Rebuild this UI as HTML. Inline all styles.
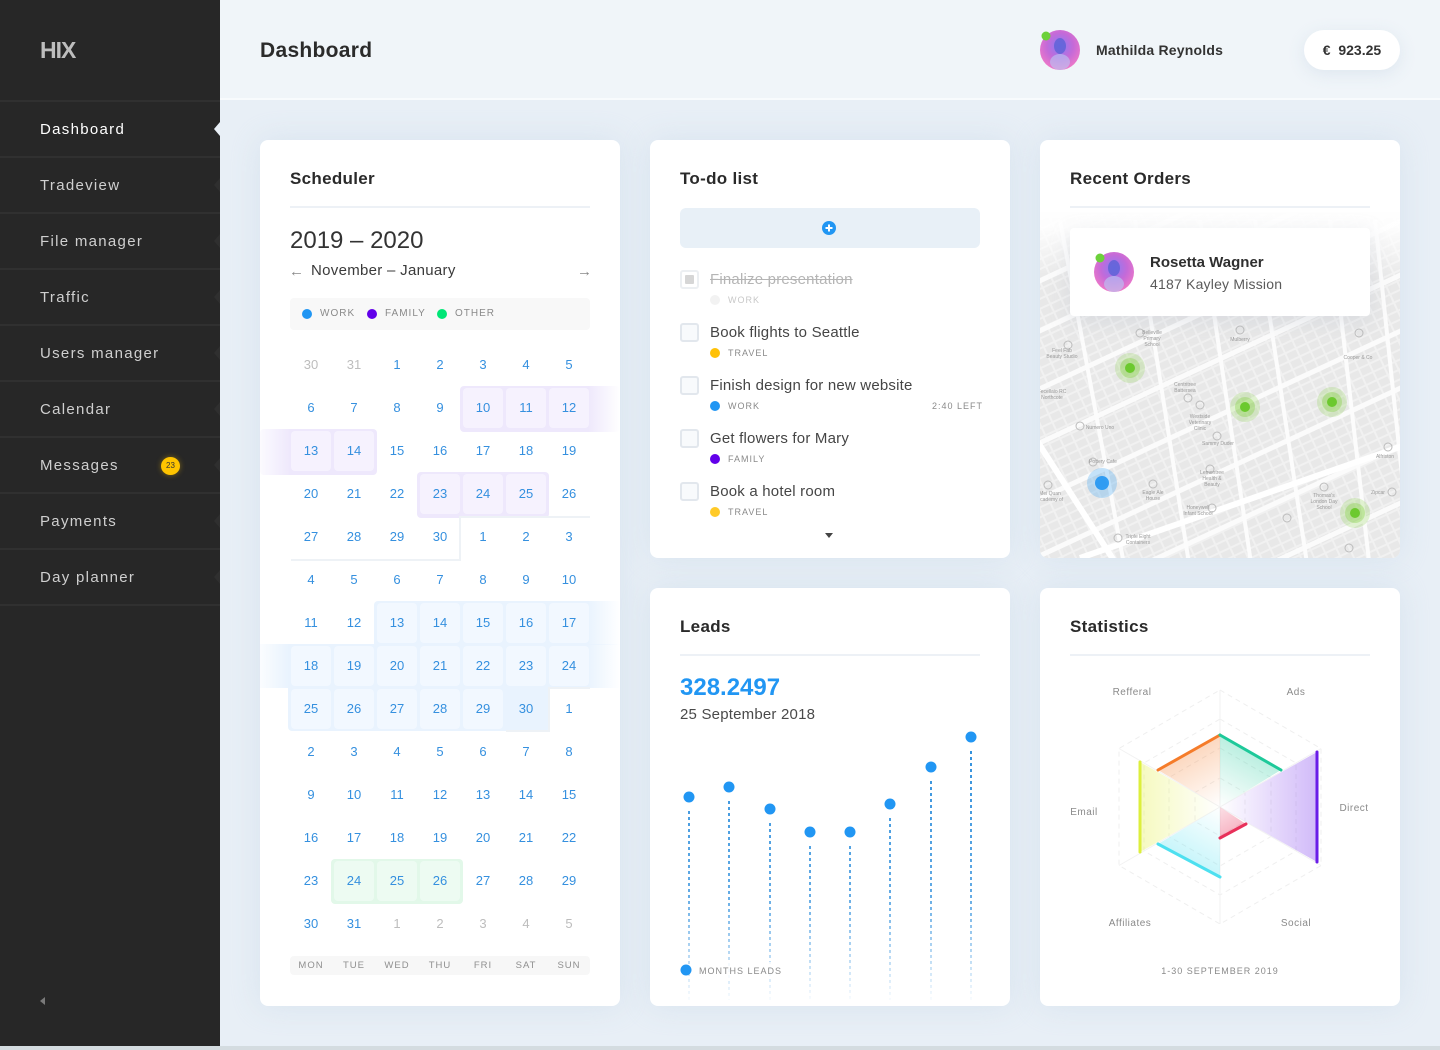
<!DOCTYPE html>
<html><head><meta charset="utf-8"><title>Dashboard</title>
<style>
*{box-sizing:border-box;margin:0;padding:0}
body{width:1440px;height:1050px;overflow:hidden;background:#e8eff6;font-family:"Liberation Sans",Arial,sans-serif;position:relative}
.a{position:absolute}
#side{left:0;top:0;width:220px;height:1046px;background:#272727}
.logo{left:40px;top:37px;font-size:23px;font-weight:bold;color:#bdbdbd;letter-spacing:-1px}
.sl{left:0;width:220px;height:2px;background:#303030}
.si{left:40px;font-size:15px;letter-spacing:1.3px;color:#cfcfcf;line-height:20px}
.nt{left:214px;width:0;height:0;border-top:7px solid transparent;border-bottom:7px solid transparent;border-right:6px solid #2f2f2f}
#hdr{left:220px;top:0;width:1220px;height:100px;background:#f0f5f9;border-bottom:2px solid #f8fbfd}
.card{position:absolute;background:#fff;border-radius:8px;box-shadow:0 0 30px rgba(196,212,230,.45);overflow:hidden}
.ttl{position:absolute;left:30px;top:29px;font-size:17px;font-weight:bold;color:#2a2a2a;letter-spacing:.3px;line-height:20px}
.dv{position:absolute;left:30px;top:66px;width:300px;height:2px;background:#edf1f6}
.grid{position:absolute;left:31px;top:205px;display:grid;grid-template-columns:repeat(7,40px);grid-auto-rows:40px;gap:3px}
.grid div{text-align:center;line-height:40px;font-size:13px;color:#3590df;border-radius:4px}
.grid .m{color:#bdbdbd}
.grid .p{background:#f6f2fe}
.grid .b{background:#f2f8ff}
.grid .g{background:#edfbf2}
.band{position:absolute;border-radius:4px}
.ln{position:absolute;background:#eef2f6}
.lg{position:absolute;font-size:10px;letter-spacing:1px;color:#8a8a8a;line-height:12px}
.dot{position:absolute;width:10px;height:10px;border-radius:50%}
.dh{position:absolute;left:30px;top:816px;width:300px;height:19px;background:#f7f7f7;border-radius:4px}
.dh span{position:absolute;top:0;width:40px;text-align:center;font-size:9.5px;letter-spacing:1px;color:#8f8f8f;line-height:19px}
.cb{position:absolute;left:30px;width:19px;height:19px;border:2px solid #e2e7ed;border-radius:3px;background:#f8fafc}
.tt{position:absolute;left:60px;font-size:15px;color:#454545;letter-spacing:.2px;line-height:18px}
.tg{position:absolute;left:78px;font-size:9px;letter-spacing:1px;color:#8a8a8a;line-height:10px}
.td{position:absolute;left:60px;width:10px;height:10px;border-radius:50%}
</style></head><body>

<!-- SIDEBAR -->
<div id="side" class="a">
  <div class="a logo">HIX</div>
  <div class="a sl" style="top:100px"></div>
  <div class="a sl" style="top:156px"></div>
  <div class="a sl" style="top:212px"></div>
  <div class="a sl" style="top:268px"></div>
  <div class="a sl" style="top:324px"></div>
  <div class="a sl" style="top:380px"></div>
  <div class="a sl" style="top:436px"></div>
  <div class="a sl" style="top:492px"></div>
  <div class="a sl" style="top:548px"></div>
  <div class="a sl" style="top:604px"></div>
  <div class="a si" style="top:120px;color:#fff">Dashboard</div>
  <div class="a si" style="top:176px">Tradeview</div>
  <div class="a si" style="top:232px">File manager</div>
  <div class="a si" style="top:288px">Traffic</div>
  <div class="a si" style="top:344px">Users manager</div>
  <div class="a si" style="top:400px">Calendar</div>
  <div class="a si" style="top:456px">Messages</div>
  <div class="a si" style="top:512px">Payments</div>
  <div class="a si" style="top:568px">Day planner</div>
  <div class="a" style="left:161px;top:457px;width:19px;height:18px;border-radius:50%;background:#ffc400;box-shadow:0 0 6px rgba(255,196,0,.4);font-size:8px;color:#333;text-align:center;line-height:18px">23</div>
  <div class="a nt" style="top:122px;border-right-color:#e8eff6"></div>
  <div class="a nt" style="top:178px"></div>
  <div class="a nt" style="top:234px"></div>
  <div class="a nt" style="top:290px"></div>
  <div class="a nt" style="top:346px"></div>
  <div class="a nt" style="top:402px"></div>
  <div class="a nt" style="top:458px"></div>
  <div class="a nt" style="top:514px"></div>
  <div class="a nt" style="top:570px"></div>
  <div class="a" style="left:40px;top:997px;width:0;height:0;border-top:4px solid transparent;border-bottom:4px solid transparent;border-right:5px solid #7a7a7a"></div>
</div>

<!-- HEADER -->
<div id="hdr" class="a"></div>
<div class="a" style="left:260px;top:39px;font-size:21px;font-weight:bold;color:#2b2b2b;letter-spacing:.3px;line-height:24px">Dashboard</div>
<svg class="a" style="left:1038px;top:28px" width="46" height="46">
  <defs><radialGradient id="av1" cx="50%" cy="40%" r="60%"><stop offset="0" stop-color="#8a7cf5"/><stop offset=".55" stop-color="#c46ad8"/><stop offset="1" stop-color="#ef78c8"/></radialGradient></defs>
  <circle cx="22" cy="22" r="20" fill="url(#av1)"/>
  <ellipse cx="22" cy="18" rx="6" ry="8" fill="#5b62d6" opacity=".8"/>
  <ellipse cx="22" cy="34" rx="10" ry="8" fill="#b9c9f5" opacity=".6"/>
  <circle cx="8" cy="8" r="4.5" fill="#6cd13a"/>
</svg>
<div class="a" style="left:1096px;top:41px;font-size:14px;font-weight:bold;color:#333;letter-spacing:.2px;line-height:18px">Mathilda Reynolds</div>
<div class="a" style="left:1304px;top:30px;width:96px;height:40px;border-radius:20px;background:#fff;box-shadow:0 4px 16px rgba(200,212,228,.45);text-align:center;line-height:40px;font-size:14px;font-weight:bold;color:#333">€&nbsp; 923.25</div>

<!-- SCHEDULER -->
<div class="card" style="left:260px;top:140px;width:360px;height:866px">
  <div class="ttl">Scheduler</div>
  <div class="dv"></div>
  <div class="a" style="left:30px;top:88px;font-size:24px;color:#333;line-height:26px">2019 – 2020</div>
  <div class="a" style="left:29px;top:123px;font-size:15px;color:#888;line-height:18px">←</div>
  <div class="a" style="left:51px;top:122px;font-size:15px;color:#3a3a3a;letter-spacing:.3px;line-height:18px">November – January</div>
  <div class="a" style="left:317px;top:123px;font-size:15px;color:#888;line-height:18px">→</div>
  <div class="a" style="left:30px;top:158px;width:300px;height:32px;background:#f8f8f8;border-radius:4px"></div>
  <div class="dot" style="left:42px;top:169px;background:#2196f3"></div>
  <div class="lg" style="left:60px;top:168px">WORK</div>
  <div class="dot" style="left:107px;top:169px;background:#6200ea"></div>
  <div class="lg" style="left:125px;top:168px">FAMILY</div>
  <div class="dot" style="left:177px;top:169px;background:#00e676"></div>
  <div class="lg" style="left:195px;top:168px">OTHER</div>

  <!-- bands -->
  <div class="band" style="left:200px;top:246px;width:160px;height:46px;background:linear-gradient(to right,#eee8fc 80%,rgba(238,232,252,0) 100%)"></div>
  <div class="band" style="left:0;top:289px;width:117px;height:46px;background:linear-gradient(to right,rgba(238,232,252,.2) 0,#eee8fc 26%)"></div>
  <div class="band" style="left:157px;top:332px;width:132px;height:46px;background:#eee8fc"></div>
  <div class="band" style="left:114px;top:461px;width:246px;height:44px;border-radius:4px 0 0 0;background:linear-gradient(to right,#e9f3fe 87%,rgba(233,243,254,0) 100%)"></div>
  <div class="band" style="left:0;top:504px;width:360px;height:44px;border-radius:0;background:linear-gradient(to right,rgba(233,243,254,.2) 0,#e9f3fe 8%,#e9f3fe 91%,rgba(233,243,254,0) 100%)"></div>
  <div class="band" style="left:28px;top:547px;width:261px;height:44px;border-radius:0 0 4px 4px;background:#e9f3fe"></div>
  <div class="band" style="left:71px;top:719px;width:132px;height:45px;background:#e2f8e9"></div>
  <!-- month separators -->
  <div class="ln" style="left:200px;top:376px;width:130px;height:2px"></div>
  <div class="ln" style="left:199px;top:376px;width:2px;height:45px"></div>
  <div class="ln" style="left:31px;top:419px;width:170px;height:2px"></div>
  <div class="ln" style="left:288px;top:547px;width:2px;height:45px"></div>
  <div class="ln" style="left:289px;top:547px;width:41px;height:2px"></div>
  <div class="ln" style="left:246px;top:590px;width:44px;height:2px"></div>

  <div class="grid">
    <div class="m">30</div><div class="m">31</div><div>1</div><div>2</div><div>3</div><div>4</div><div>5</div>
    <div>6</div><div>7</div><div>8</div><div>9</div><div class="p">10</div><div class="p">11</div><div class="p">12</div>
    <div class="p">13</div><div class="p">14</div><div>15</div><div>16</div><div>17</div><div>18</div><div>19</div>
    <div>20</div><div>21</div><div>22</div><div class="p">23</div><div class="p">24</div><div class="p">25</div><div>26</div>
    <div>27</div><div>28</div><div>29</div><div>30</div><div>1</div><div>2</div><div>3</div>
    <div>4</div><div>5</div><div>6</div><div>7</div><div>8</div><div>9</div><div>10</div>
    <div>11</div><div>12</div><div class="b">13</div><div class="b">14</div><div class="b">15</div><div class="b">16</div><div class="b">17</div>
    <div class="b">18</div><div class="b">19</div><div class="b">20</div><div class="b">21</div><div class="b">22</div><div class="b">23</div><div class="b">24</div>
    <div class="b">25</div><div class="b">26</div><div class="b">27</div><div class="b">28</div><div class="b">29</div><div>30</div><div>1</div>
    <div>2</div><div>3</div><div>4</div><div>5</div><div>6</div><div>7</div><div>8</div>
    <div>9</div><div>10</div><div>11</div><div>12</div><div>13</div><div>14</div><div>15</div>
    <div>16</div><div>17</div><div>18</div><div>19</div><div>20</div><div>21</div><div>22</div>
    <div>23</div><div class="g">24</div><div class="g">25</div><div class="g">26</div><div>27</div><div>28</div><div>29</div>
    <div>30</div><div>31</div><div class="m">1</div><div class="m">2</div><div class="m">3</div><div class="m">4</div><div class="m">5</div>
  </div>
  <div class="dh">
    <span style="left:1px">MON</span><span style="left:44px">TUE</span><span style="left:87px">WED</span><span style="left:130px">THU</span><span style="left:173px">FRI</span><span style="left:216px">SAT</span><span style="left:259px">SUN</span>
  </div>
</div>

<!-- TODO -->
<div class="card" style="left:650px;top:140px;width:360px;height:418px">
  <div class="ttl">To-do list</div>
  <div class="a" style="left:30px;top:68px;width:300px;height:40px;background:#e8f0f7;border-radius:6px"></div>
  <svg class="a" style="left:172px;top:81px" width="14" height="14"><circle cx="7" cy="7" r="7" fill="#2196f3"/><path d="M7 3.5v7M3.5 7h7" stroke="#fff" stroke-width="2"/></svg>

  <div class="cb" style="top:130px;border-color:#eceff2;background:#fff"></div>
  <div class="a" style="left:35px;top:135px;width:9px;height:9px;background:#d6d6d6;border-radius:1px"></div>
  <div class="tt" style="top:131px;color:#b5b5b5;text-decoration:line-through">Finalize presentation</div>
  <div class="td" style="top:155px;background:#f2f2f2"></div>
  <div class="tg" style="top:155px;color:#c8c8c8">WORK</div>

  <div class="cb" style="top:183px"></div>
  <div class="tt" style="top:184px">Book flights to Seattle</div>
  <div class="td" style="top:208px;background:#ffc107"></div>
  <div class="tg" style="top:208px">TRAVEL</div>

  <div class="cb" style="top:236px"></div>
  <div class="tt" style="top:237px">Finish design for new website</div>
  <div class="td" style="top:261px;background:#2196f3"></div>
  <div class="tg" style="top:261px">WORK</div>
  <div class="tg" style="left:282px;top:261px">2:40 LEFT</div>

  <div class="cb" style="top:289px"></div>
  <div class="tt" style="top:290px">Get flowers for Mary</div>
  <div class="td" style="top:314px;background:#6200ea"></div>
  <div class="tg" style="top:314px">FAMILY</div>

  <div class="cb" style="top:342px"></div>
  <div class="tt" style="top:343px">Book a hotel room</div>
  <div class="td" style="top:367px;background:#ffca28"></div>
  <div class="tg" style="top:367px">TRAVEL</div>

  <div class="a" style="left:175px;top:393px;width:0;height:0;border-left:4.5px solid transparent;border-right:4.5px solid transparent;border-top:5px solid #444"></div>
</div>

<!-- RECENT ORDERS -->
<div class="card" style="left:1040px;top:140px;width:360px;height:418px">
  <svg class="a" style="left:0;top:0" width="360" height="418">
    <defs>
      <pattern id="hs" width="12" height="9" patternUnits="userSpaceOnUse" patternTransform="rotate(-25)">
        <rect width="12" height="9" fill="#f1f1f1"/><rect x="1" y="1" width="10" height="7" fill="#e6e6e6"/>
      </pattern>
      <linearGradient id="fade" x1="0" y1="0" x2="0" y2="1">
        <stop offset="0" stop-color="#fff" stop-opacity="1"/><stop offset=".35" stop-color="#fff" stop-opacity=".9"/><stop offset="1" stop-color="#fff" stop-opacity="0"/>
      </linearGradient>
      <clipPath id="mc"><rect x="0" y="72" width="360" height="346"/></clipPath>
    </defs>
    <g clip-path="url(#mc)">
    <rect x="0" y="70" width="360" height="348" fill="#efefef"/>
    <rect x="0" y="70" width="360" height="348" fill="url(#hs)" opacity=".75"/>
    <g stroke="#fbfbfb" stroke-width="5" stroke-linecap="butt">
      <line x1="-20" y1="150" x2="380" y2="-36"/>
      <line x1="-20" y1="200" x2="380" y2="14"/>
      <line x1="-20" y1="258" x2="380" y2="72"/>
      <line x1="-20" y1="312" x2="380" y2="126"/>
      <line x1="-20" y1="368" x2="380" y2="182"/>
      <line x1="-20" y1="425" x2="380" y2="239"/>
      <line x1="-20" y1="482" x2="380" y2="296"/>
      <line x1="-20" y1="540" x2="380" y2="354"/>
    </g>
    <g stroke="#fcfcfc" stroke-width="4">
      <line x1="20" y1="80" x2="85" y2="430"/>
      <line x1="95" y1="80" x2="150" y2="430"/>
      <line x1="160" y1="80" x2="212" y2="430"/>
      <line x1="215" y1="80" x2="268" y2="430"/>
      <line x1="290" y1="80" x2="330" y2="430"/>
      <line x1="335" y1="80" x2="372" y2="430"/>
    </g>
    <g stroke="#ffffff" stroke-width="6">
      <line x1="-10" y1="290" x2="80" y2="430"/>
      <line x1="40" y1="418" x2="380" y2="300"/>
    </g>
    <g fill="none" stroke="#bcbcbc" stroke-width="1">
      <circle cx="100" cy="193" r="4"/><circle cx="28" cy="205" r="4"/><circle cx="148" cy="258" r="4"/><circle cx="200" cy="190" r="4"/>
      <circle cx="160" cy="265" r="4"/><circle cx="40" cy="286" r="4"/><circle cx="177" cy="296" r="4"/><circle cx="53" cy="322" r="4"/>
      <circle cx="170" cy="329" r="4"/><circle cx="113" cy="344" r="4"/><circle cx="172" cy="368" r="4"/><circle cx="284" cy="347" r="4"/>
      <circle cx="319" cy="193" r="4"/><circle cx="348" cy="307" r="4"/><circle cx="352" cy="352" r="4"/><circle cx="247" cy="378" r="4"/>
      <circle cx="8" cy="345" r="4"/><circle cx="78" cy="398" r="4"/><circle cx="309" cy="408" r="4"/>
    </g>
    <g font-family="Liberation Sans" font-size="5" fill="#9a9a9a" text-anchor="middle">
      <text x="112" y="194">Belleville</text><text x="112" y="200">Primary</text><text x="112" y="206">School</text>
      <text x="22" y="212">Feel Fab</text><text x="22" y="218">Beauty Studio</text>
      <text x="200" y="201">Mulberry</text>
      <text x="145" y="246">Centritree</text><text x="145" y="252">Battersea</text>
      <text x="160" y="278">Westside</text><text x="160" y="284">Veterinary</text><text x="160" y="290">Clinic</text>
      <text x="60" y="289">Numero Uno</text><text x="178" y="305">Sammy Duder</text>
      <text x="63" y="323">Pottery Cafe</text>
      <text x="172" y="334">Lemontree</text><text x="172" y="340">Health &amp;</text><text x="172" y="346">Beauty</text>
      <text x="113" y="354">Eagle Ale</text><text x="113" y="360">House</text>
      <text x="158" y="369">Honeywell</text><text x="158" y="375">Infant School</text>
      <text x="284" y="357">Thomas's</text><text x="284" y="363">London Day</text><text x="284" y="369">School</text>
      <text x="98" y="398">Triple Eight</text><text x="98" y="404">Containers</text>
      <text x="318" y="219">Cooper &amp; Co</text><text x="345" y="318">Alfriston</text><text x="338" y="354">Zipcar</text>
      <text x="10" y="355">Mei Quan</text><text x="10" y="361">Academy of</text>
      <text x="12" y="253">Fecellaio RC</text><text x="12" y="259">Northcote</text>
    </g>
    </g>
    <rect x="0" y="60" width="360" height="80" fill="url(#fade)"/>
    <g>
      <circle cx="90" cy="228" r="15" fill="#7fcf3a" opacity=".22"/><circle cx="90" cy="228" r="10" fill="#7fcf3a" opacity=".35"/><circle cx="90" cy="228" r="5" fill="#6cc92e"/>
      <circle cx="205" cy="267" r="15" fill="#7fcf3a" opacity=".22"/><circle cx="205" cy="267" r="10" fill="#7fcf3a" opacity=".35"/><circle cx="205" cy="267" r="5" fill="#6cc92e"/>
      <circle cx="292" cy="262" r="15" fill="#7fcf3a" opacity=".22"/><circle cx="292" cy="262" r="10" fill="#7fcf3a" opacity=".35"/><circle cx="292" cy="262" r="5" fill="#6cc92e"/>
      <circle cx="315" cy="373" r="15" fill="#7fcf3a" opacity=".22"/><circle cx="315" cy="373" r="10" fill="#7fcf3a" opacity=".35"/><circle cx="315" cy="373" r="5" fill="#6cc92e"/>
      <circle cx="62" cy="343" r="15" fill="#2196f3" opacity=".25"/><circle cx="62" cy="343" r="7" fill="#2196f3" opacity=".9"/>
    </g>
  </svg>
  <div class="ttl">Recent Orders</div>
  <div class="dv"></div>
  <div class="a" style="left:30px;top:88px;width:300px;height:88px;background:#fff;border-radius:4px;box-shadow:0 6px 20px rgba(170,180,195,.25)"></div>
  <svg class="a" style="left:52px;top:110px" width="46" height="46">
    <defs><radialGradient id="av2" cx="50%" cy="40%" r="60%"><stop offset="0" stop-color="#8a7cf5"/><stop offset=".55" stop-color="#c46ad8"/><stop offset="1" stop-color="#ef78c8"/></radialGradient></defs>
    <circle cx="22" cy="22" r="20" fill="url(#av2)"/>
    <ellipse cx="22" cy="18" rx="6" ry="8" fill="#5b62d6" opacity=".8"/>
    <ellipse cx="22" cy="34" rx="10" ry="8" fill="#b9c9f5" opacity=".6"/>
    <circle cx="8" cy="8" r="4.5" fill="#6cd13a"/>
  </svg>
  <div class="a" style="left:110px;top:114px;font-size:15px;font-weight:bold;color:#2f2f2f;line-height:18px">Rosetta Wagner</div>
  <div class="a" style="left:110px;top:135px;font-size:14px;color:#5a5a5a;letter-spacing:.2px;line-height:18px">4187 Kayley Mission</div>
</div>

<!-- LEADS -->
<div class="card" style="left:650px;top:588px;width:360px;height:418px">
  <div class="ttl">Leads</div>
  <div class="dv"></div>
  <div class="a" style="left:30px;top:86px;font-size:24px;font-weight:bold;color:#2196f3;line-height:28px">328.2497</div>
  <div class="a" style="left:30px;top:118px;font-size:15px;color:#4a4a4a;letter-spacing:.2px;line-height:18px">25 September 2018</div>
  <svg class="a" style="left:0;top:0" width="360" height="418">
    <defs>
      <linearGradient id="lf" gradientUnits="userSpaceOnUse" x1="0" y1="150" x2="0" y2="412">
        <stop offset="0" stop-color="#2f8fdc" stop-opacity="1"/><stop offset=".6" stop-color="#2f8fdc" stop-opacity=".75"/><stop offset="1" stop-color="#2f8fdc" stop-opacity=".03"/>
      </linearGradient>
    </defs>
    <g stroke="url(#lf)" stroke-width="2" stroke-dasharray="3 3">
      <line x1="39" y1="223" x2="39" y2="412"/>
      <line x1="79" y1="213" x2="79" y2="412"/>
      <line x1="120" y1="235" x2="120" y2="412"/>
      <line x1="160" y1="258" x2="160" y2="412"/>
      <line x1="200" y1="258" x2="200" y2="412"/>
      <line x1="240" y1="230" x2="240" y2="412"/>
      <line x1="281" y1="193" x2="281" y2="412"/>
      <line x1="321" y1="163" x2="321" y2="412"/>
    </g>
    <g fill="#2196f3">
      <circle cx="39" cy="209" r="5.5"/><circle cx="79" cy="199" r="5.5"/><circle cx="120" cy="221" r="5.5"/><circle cx="160" cy="244" r="5.5"/>
      <circle cx="200" cy="244" r="5.5"/><circle cx="240" cy="216" r="5.5"/><circle cx="281" cy="179" r="5.5"/><circle cx="321" cy="149" r="5.5"/>
    </g>
    <rect x="44" y="374" width="90" height="16" fill="#fff" opacity=".8"/>
    <circle cx="36" cy="382" r="5.5" fill="#2196f3"/>
    <text x="49" y="386" font-family="Liberation Sans" font-size="9" letter-spacing="1" fill="#8a8a8a">MONTHS LEADS</text>
  </svg>
</div>

<!-- STATISTICS -->
<div class="card" style="left:1040px;top:588px;width:360px;height:418px">
  <div class="ttl">Statistics</div>
  <div class="dv"></div>
  <svg class="a" style="left:0;top:0" width="360" height="418">
    <defs>
      <linearGradient id="go" gradientUnits="userSpaceOnUse" x1="180" y1="219" x2="149" y2="164"><stop offset="0" stop-color="#f57c2a" stop-opacity="0"/><stop offset="1" stop-color="#f57c2a" stop-opacity=".3"/></linearGradient>
      <linearGradient id="gg" gradientUnits="userSpaceOnUse" x1="180" y1="219" x2="210" y2="164"><stop offset="0" stop-color="#1ec99a" stop-opacity="0"/><stop offset="1" stop-color="#1ec99a" stop-opacity=".3"/></linearGradient>
      <linearGradient id="gp" gradientUnits="userSpaceOnUse" x1="180" y1="219" x2="277" y2="219"><stop offset="0" stop-color="#7c3aed" stop-opacity="0"/><stop offset="1" stop-color="#7c3aed" stop-opacity=".35"/></linearGradient>
      <linearGradient id="gr" gradientUnits="userSpaceOnUse" x1="180" y1="219" x2="193" y2="243"><stop offset="0" stop-color="#e8305a" stop-opacity=".15"/><stop offset="1" stop-color="#e8305a" stop-opacity=".35"/></linearGradient>
      <linearGradient id="gc" gradientUnits="userSpaceOnUse" x1="180" y1="219" x2="149" y2="272"><stop offset="0" stop-color="#4de0f0" stop-opacity="0"/><stop offset="1" stop-color="#4de0f0" stop-opacity=".3"/></linearGradient>
      <linearGradient id="gy" gradientUnits="userSpaceOnUse" x1="180" y1="219" x2="100" y2="219"><stop offset="0" stop-color="#e4f04a" stop-opacity="0"/><stop offset="1" stop-color="#e4f04a" stop-opacity=".35"/></linearGradient>
    </defs>
    <g fill="none" stroke="#efefef" stroke-width="1" stroke-dasharray="5 4">
      <polygon points="180,102 281,160.5 281,277.5 180,336 79,277.5 79,160.5"/>
      <polygon points="180,131 256,175 256,263 180,307 104,263 104,175"/>
      <polygon points="180,160 231,189.5 231,248.5 180,278 129,248.5 129,189.5"/>
      <polygon points="180,190 205,204.5 205,233.5 180,248 155,233.5 155,204.5"/>
    </g>
    <g stroke="#f2f2f2" stroke-width="1">
      <line x1="180" y1="102" x2="180" y2="336"/>
      <line x1="79" y1="160.5" x2="281" y2="277.5"/>
      <line x1="79" y1="277.5" x2="281" y2="160.5"/>
    </g>
    <polygon points="180,219 118,182 180,147" fill="url(#go)"/>
    <polygon points="180,219 180,147 241,182" fill="url(#gg)"/>
    <polygon points="180,219 277,164 277,274" fill="url(#gp)"/>
    <polygon points="180,219 206,236 180,250" fill="url(#gr)"/>
    <polygon points="180,219 180,289 118,256" fill="url(#gc)"/>
    <polygon points="180,219 100,174 100,264" fill="url(#gy)"/>
    <g stroke-width="3" stroke-linecap="round">
      <line x1="118" y1="182" x2="180" y2="147" stroke="#f57c2a"/>
      <line x1="180" y1="147" x2="241" y2="182" stroke="#1ec99a"/>
      <line x1="277" y1="164" x2="277" y2="274" stroke="#6a1de8"/>
      <line x1="206" y1="236" x2="180" y2="250" stroke="#e8305a"/>
      <line x1="118" y1="256" x2="180" y2="289" stroke="#4de0f0"/>
      <line x1="100" y1="174" x2="100" y2="264" stroke="#dcef3c"/>
    </g>
    <g font-family="Liberation Sans" font-size="10" fill="#8a8a8a" text-anchor="middle" letter-spacing=".5">
      <text x="92" y="107">Refferal</text>
      <text x="256" y="107">Ads</text>
      <text x="314" y="223">Direct</text>
      <text x="256" y="338">Social</text>
      <text x="90" y="338">Affiliates</text>
      <text x="44" y="227">Email</text>
      <text x="180" y="386" font-size="9" letter-spacing="1">1-30 SEPTEMBER 2019</text>
    </g>
  </svg>
</div>

<div class="a" style="left:0;top:1046px;width:1440px;height:4px;background:#d4dce0"></div>
</body></html>
